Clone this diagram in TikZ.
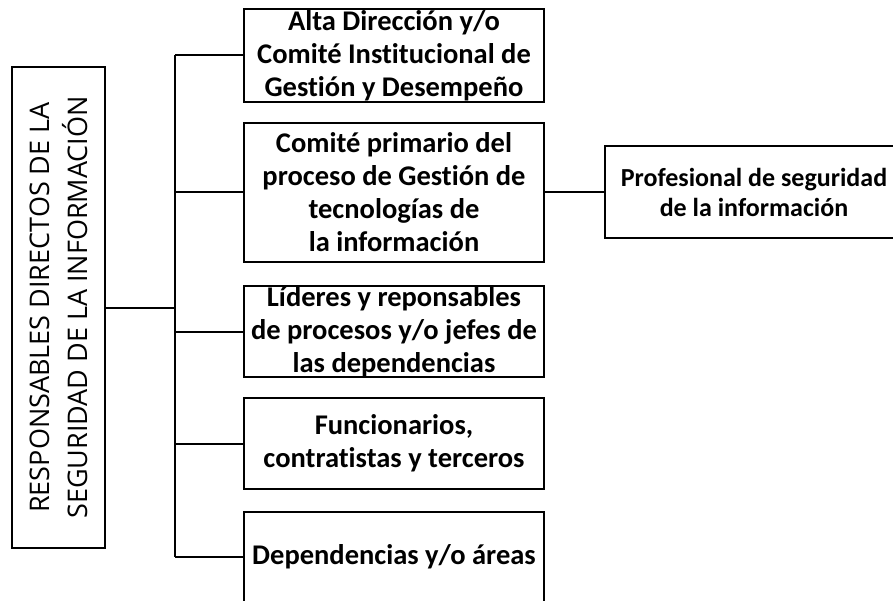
\documentclass[tikz,border=0pt]{standalone}
\usepackage{fontspec}
\setmainfont{Carlito}[Ligatures=NoCommon]
\newfontfamily\opensans{Open Sans}
\usetikzlibrary{positioning}
\tikzset{
  unitbox/.style={draw,line width=2pt,minimum width=300pt,align=center,inner sep=0pt,
    font=\bfseries\fontsize{28.5}{33}\selectfont},
  link/.style={line width=2pt},
}

\begin{document}
\begin{tikzpicture}[x=1pt,y=-1pt]
% Page size in pixels
\clip (0,0) rectangle (893,601);

% Left box, text turned upwards
\node[draw,line width=2pt,rotate=90,minimum width=481pt,minimum height=93pt,align=center,
  font=\opensans\fontsize{27}{38}\selectfont] (resp) at (58.5,307.5)
  {RESPONSABLES DIRECTOS DE LA\\SEGURIDAD DE LA INFORMACIÓN};

% Boxes on the right of the trunk
\node[unitbox,minimum height=93pt] (alta) at (394,55.5)
  {Alta Dirección y/o\\Comité Institucional de\\Gestión y Desempeño};
\node[unitbox,minimum height=139pt] (comite) at (394,192.5)
  {Comité primario del\\proceso de Gestión de\\tecnologías de\\la información};
\node[unitbox,minimum height=91pt] (lideres) at (394,331.5)
  {Líderes y reponsables\\de procesos y/o jefes de\\las dependencias};
\node[unitbox,minimum height=91pt] (func) at (394,443.5)
  {Funcionarios,\\contratistas y terceros};
\node[unitbox,minimum height=90pt] (dep) at (394,557)
  {Dependencias y/o áreas};
\node[unitbox,minimum width=298pt,minimum height=92pt,font=\bfseries\fontsize{26}{30}\selectfont,
  right=59pt of comite] (prof) {Profesional de seguridad\\de la información};

% Trunk and branches
\coordinate (trunk) at (175,0);
\draw[link] (resp.south) -- (resp.south -| trunk);
\draw[link] (alta.west -| trunk) -- (dep.west -| trunk);
\foreach \b in {alta,comite,lideres,func,dep}
  \draw[link] (\b.west -| trunk) -- (\b.west);

% Link to the professional
\draw[link] (comite.east) -- (prof.west);

\end{tikzpicture}
\end{document}
